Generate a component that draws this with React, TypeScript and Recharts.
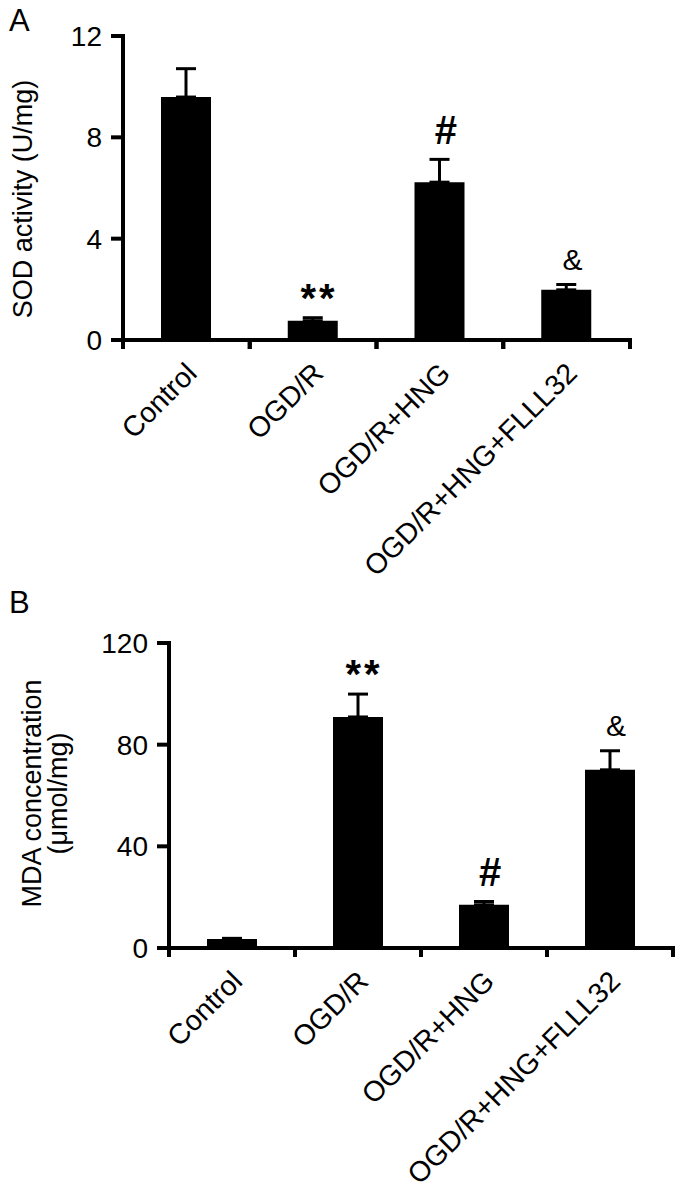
import { ComposedChart, Bar, Line, XAxis, YAxis, ErrorBar, LabelList } from "recharts";

const FONT = "'Liberation Sans', Arial, Helvetica, sans-serif";

// groups on the x axis and significance marks above each bar
const groups = ["Control", "OGD/R", "OGD/R+HNG", "OGD/R+HNG+FLLL32"];
const marks = ["", "**", "#", "&"];

// panel A: SOD activity (U/mg), mean and upper error
const sodMean = [9.59, 0.76, 6.23, 1.98];
const sodErr = [1.12, 0.12, 0.9, 0.21];
const sodTicks = [0, 4, 8, 12];

// panel B: MDA concentration (umol/mg)
const mdaMean = [3.5, 90.9, 17.0, 70.1];
const mdaErr = [0.3, 9.0, 1.3, 7.5];
const mdaTicks = [0, 40, 80, 120];

const buildRows = (mean: number[], err: number[]) =>
  groups.map((name, i) => ({
    name,
    mean: mean[i],
    err: [0, err[i]],
    top: mean[i] + err[i],
    mark: marks[i],
  }));

const sodRows = buildRows(sodMean, sodErr);
const mdaRows = buildRows(mdaMean, mdaErr);

const axisStroke = { stroke: "#000", strokeWidth: 4, strokeLinecap: "square" as const };

// group name rotated -45deg, plus tick marks on the band edges
function GroupTick(props: any) {
  const { x, y, payload } = props;
  const half = payload.offset ?? 0;
  const tx = x + 12;
  const ty = y + 35;
  return (
    <g>
      <line x1={x - half} y1={y} x2={x - half} y2={y + 9} stroke="#000" strokeWidth={4} />
      <line x1={x + half} y1={y} x2={x + half} y2={y + 9} stroke="#000" strokeWidth={4} />
      <text
        x={tx}
        y={ty}
        transform={`rotate(-45, ${tx}, ${ty})`}
        textAnchor="end"
        fontSize={28.5}
        fontFamily={FONT}
        fill="#000"
      >
        {payload.value}
      </text>
    </g>
  );
}

function MarkLabel(props: any) {
  const { x, y, value } = props;
  if (!value) return null;
  const star = value === "**";
  const amp = value === "&";
  return (
    <text
      x={x + 6}
      y={y - (star ? 6 : 15)}
      textAnchor="middle"
      fontSize={amp ? 30 : 40}
      fontWeight={amp ? 400 : 700}
      letterSpacing={star ? 3 : 0}
      fontFamily={FONT}
      fill="#000"
    >
      {value}
    </text>
  );
}

function SodTitle(props: any) {
  const vb = props.viewBox;
  const cx = 32;
  const cy = vb.y + vb.height / 2 + 11;
  return (
    <text x={cx} y={cy} transform={`rotate(-90, ${cx}, ${cy})`} textAnchor="middle" fontSize={27} fontFamily={FONT} fill="#000">
      SOD activity (U/mg)
    </text>
  );
}

function MdaTitle(props: any) {
  const vb = props.viewBox;
  const cy = vb.y + vb.height / 2 - 2;
  return (
    <g>
      <text x={41} y={cy} transform={`rotate(-90, 41, ${cy})`} textAnchor="middle" fontSize={27} fontFamily={FONT} fill="#000">
        MDA concentration
      </text>
      <text x={67} y={cy} transform={`rotate(-90, 67, ${cy})`} textAnchor="middle" fontSize={27} fontFamily={FONT} fill="#000">
        (μmol/mg)
      </text>
    </g>
  );
}

type PanelProps = {
  rows: ReturnType<typeof buildRows>;
  ticks: number[];
  height: number;
  margin: { top: number; right: number; left: number; bottom: number };
  yWidth: number;
  xHeight: number;
  title: any;
};

function Panel({ rows, ticks, height, margin, yWidth, xHeight, title }: PanelProps) {
  return (
    <ComposedChart width={685} height={height} data={rows} margin={margin}>
      <XAxis
        dataKey="name"
        interval={0}
        height={xHeight}
        axisLine={axisStroke}
        tickLine={false}
        tickSize={0}
        tickMargin={0}
        tick={<GroupTick />}
      />
      <YAxis
        width={yWidth}
        domain={[ticks[0], ticks[ticks.length - 1]]}
        ticks={ticks}
        interval={0}
        axisLine={axisStroke}
        tickLine={{ stroke: "#000", strokeWidth: 4 }}
        tickSize={12}
        tickMargin={9}
        tick={{ fontSize: 28, fill: "#000", fontFamily: FONT }}
        label={title}
      />
      <Bar dataKey="mean" fill="#000" barSize={50} isAnimationActive={false}>
        <ErrorBar dataKey="err" width={10} strokeWidth={3} stroke="#000" direction="y" />
      </Bar>
      <Line dataKey="top" stroke="none" dot={false} activeDot={false} legendType="none" isAnimationActive={false}>
        <LabelList dataKey="mark" content={<MarkLabel />} />
      </Line>
    </ComposedChart>
  );
}

export default function App() {
  return (
    <div style={{ position: "absolute", left: 0, top: 0, width: 685, height: 1193, background: "#fff" }}>
      <div style={{ position: "absolute", left: 0, top: 0 }}>
        <Panel
          rows={sodRows}
          ticks={sodTicks}
          height={590}
          margin={{ top: 36, right: 55, left: 0, bottom: 0 }}
          yWidth={123}
          xHeight={250}
          title={<SodTitle />}
        />
      </div>
      <div style={{ position: "absolute", left: 0, top: 590 }}>
        <Panel
          rows={mdaRows}
          ticks={mdaTicks}
          height={603}
          margin={{ top: 53, right: 12, left: 0, bottom: 0 }}
          yWidth={169}
          xHeight={245}
          title={<MdaTitle />}
        />
      </div>
      <svg width={685} height={1193} style={{ position: "absolute", left: 0, top: 0, pointerEvents: "none" }}>
        <text x={9} y={31} fontSize={31} fontFamily={FONT} fill="#000">A</text>
        <text x={9} y={613} fontSize={31} fontFamily={FONT} fill="#000">B</text>
      </svg>
    </div>
  );
}
